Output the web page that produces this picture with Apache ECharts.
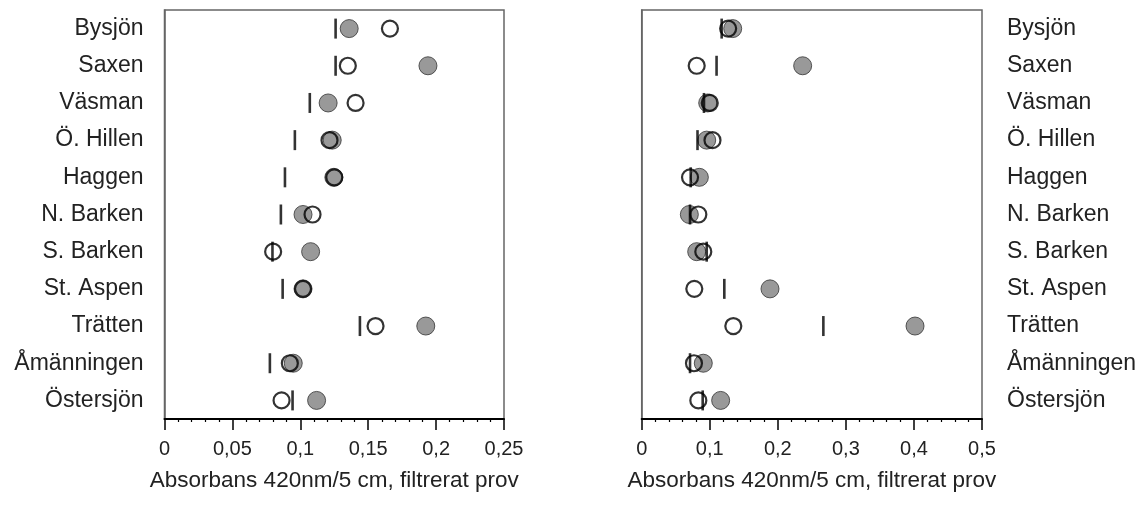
<!DOCTYPE html>
<html>
<head>
<meta charset="utf-8">
<script src="https://cdn.jsdelivr.net/npm/echarts@6/dist/echarts.min.js"></script>
<style>
html,body{margin:0;padding:0;background:#fff;}
#chart{width:1146px;height:511px;}
</style>
</head>
<body>
<div id="chart"></div>
<script>
const categories = ['Bysjön','Saxen','Väsman','Ö. Hillen','Haggen','N. Barken','S. Barken','St. Aspen','Trätten','Åmänningen','Östersjön'];
const leftFilled  = [0.136, 0.194, 0.1205, 0.1235, 0.1247, 0.102, 0.1076, 0.102, 0.1924, 0.0948, 0.112];
const leftOpen    = [0.166, 0.135, 0.1407, 0.1215, 0.125, 0.109, 0.080, 0.102, 0.1554, 0.0923, 0.0862];
const leftMark    = [0.126, 0.126, 0.107, 0.096, 0.0887, 0.0857, 0.0795, 0.087, 0.1439, 0.0776, 0.0943];
const rightFilled = [0.1337, 0.2365, 0.097, 0.0955, 0.0847, 0.070, 0.0808, 0.1885, 0.4016, 0.0905, 0.116];
const rightOpen   = [0.127, 0.0808, 0.100, 0.104, 0.071, 0.0832, 0.0905, 0.0773, 0.1346, 0.0768, 0.0832];
const rightMark   = [0.1175, 0.110, 0.0915, 0.082, 0.072, 0.071, 0.0955, 0.1214, 0.2669, 0.071, 0.0896];
const xTitle = 'Absorbans 420nm/5 cm, filtrerat prov';

const FONT = 'Liberation Sans, Arial, sans-serif';
const pairs = arr => arr.map((v, i) => [v, categories[i]]);
const fmt = v => String(Math.round(v * 1000) / 1000).replace('.', ',');

function xAxis(gi, max, interval) {
  return {
    type: 'value', gridIndex: gi, min: 0, max: max, interval: interval,
    splitLine: {show: false},
    axisLine: {show: true, onZero: false, lineStyle: {color: '#000', width: 2}},
    axisTick: {show: true, inside: false, length: 11, lineStyle: {color: '#000', width: 1.5}},
    minorTick: {show: true, splitNumber: 5, length: 3, lineStyle: {color: '#000', width: 1.2}},
    axisLabel: {formatter: fmt, fontFamily: FONT, fontSize: 20, color: '#222', margin: 20},
    name: xTitle, nameLocation: 'middle', nameGap: 50,
    nameTextStyle: {fontFamily: FONT, fontSize: 22.5, color: '#222'}
  };
}
function yAxis(gi, pos) {
  return {
    type: 'category', gridIndex: gi, data: categories, inverse: true, position: pos,
    axisLine: {show: true, lineStyle: {color: '#666', width: 1.5}},
    axisTick: {show: false}, splitLine: {show: false},
    axisLabel: {fontFamily: FONT, fontSize: 23, color: '#222', margin: pos === 'left' ? 21 : 25,
      align: pos === 'left' ? 'right' : 'left'}
  };
}
function panel(gi, filled, open, mark) {
  return [
    {type: 'scatter', xAxisIndex: gi, yAxisIndex: gi, data: pairs(filled), symbol: 'circle', symbolSize: 18,
     itemStyle: {color: '#808080', borderColor: '#333', borderWidth: 1}, z: 2, silent: true},
    {type: 'scatter', xAxisIndex: gi, yAxisIndex: gi, data: pairs(open), symbol: 'circle', symbolSize: 16,
     itemStyle: {color: 'rgba(255,255,255,0)', borderColor: '#000', borderWidth: 2.2}, z: 3, silent: true},
    {type: 'scatter', xAxisIndex: gi, yAxisIndex: gi, data: pairs(mark), symbol: 'rect', symbolSize: [2.6, 20],
     itemStyle: {color: '#000'}, z: 4, silent: true}
  ];
}

const chart = echarts.init(document.getElementById('chart'), null, {renderer: 'canvas'});
chart.setOption({
  animation: false,
  backgroundColor: '#fff',
  grid: [
    {left: 164.5, right: 642, top: 10, bottom: 92, show: true, borderColor: '#666', borderWidth: 1.5, containLabel: false},
    {left: 641.7, right: 164, top: 10, bottom: 92, show: true, borderColor: '#666', borderWidth: 1.5, containLabel: false}
  ],
  xAxis: [xAxis(0, 0.25, 0.05), xAxis(1, 0.5, 0.1)],
  yAxis: [yAxis(0, 'left'), yAxis(1, 'right')],
  series: [].concat(panel(0, leftFilled, leftOpen, leftMark), panel(1, rightFilled, rightOpen, rightMark))
});
</script>
</body>
</html>
